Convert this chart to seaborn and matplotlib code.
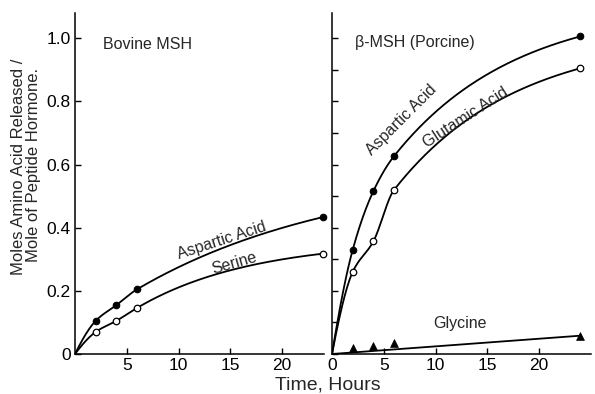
import numpy as np
import pandas as pd
import matplotlib
matplotlib.use("Agg")
import matplotlib.pyplot as plt
import seaborn as sns

# ---- data ----
hours = [2, 4, 6, 24]
bov_aspartic = [0.105, 0.155, 0.205, 0.434]
bov_serine = [0.07, 0.105, 0.146, 0.318]
por_aspartic = [0.33, 0.516, 0.627, 1.006]
por_glutamic = [0.26, 0.357, 0.52, 0.905]
por_glycine = [0.02, 0.025, 0.035, 0.058]

left_xticks = [5, 10, 15, 20]
right_xticks = [0, 5, 10, 15, 20]
yticks = [0, 0.2, 0.4, 0.6, 0.8, 1.0]
ytick_labels = ["0", "0.2", "0.4", "0.6", "0.8", "1.0"]

# curvature (style) of the hand-drawn smooth curve after the last early point
bend = {"bov_asp": 0.05, "bov_ser": 0.09, "por_asp": 0.085, "por_glu": 0.085}


def hermite(x, y, m, xs):
    x = np.asarray(x, float); y = np.asarray(y, float); m = np.asarray(m, float)
    h = np.diff(x)
    idx = np.clip(np.searchsorted(x, xs) - 1, 0, len(x) - 2)
    t = (xs - x[idx]) / h[idx]
    h00 = 2 * t**3 - 3 * t**2 + 1; h10 = t**3 - 2 * t**2 + t
    h01 = -2 * t**3 + 3 * t**2; h11 = t**3 - t**2
    return h00 * y[idx] + h10 * h[idx] * m[idx] + h01 * y[idx + 1] + h11 * h[idx] * m[idx + 1]


def curve(vals, k):
    # early part: monotone cubic through origin and the early points,
    # late part: smooth saturating approach to the last point
    x = np.array([0] + hours[:-1], float)
    y = np.array([0] + vals[:-1], float)
    x_end, y_end = hours[-1], vals[-1]
    span = x_end - x[-1]
    delta = y_end - y[-1]
    tail_slope = delta * k / (1 - np.exp(-k * span))
    h = np.diff(x); d = np.diff(y) / h
    n = len(x); m = np.zeros(n)
    for i in range(1, n - 1):
        if d[i - 1] * d[i] > 0:
            w1 = 2 * h[i] + h[i - 1]; w2 = h[i] + 2 * h[i - 1]
            m[i] = (w1 + w2) / (w1 / d[i - 1] + w2 / d[i])
    m[0] = max(((2 * h[0] + h[1]) * d[0] - h[0] * d[1]) / (h[0] + h[1]), 0)
    m[-1] = tail_slope
    xs1 = np.linspace(0, x[-1], 80)
    ys1 = hermite(x, y, m, xs1)
    xs2 = np.linspace(x[-1], x_end, 120)[1:]
    ys2 = y[-1] + delta * (1 - np.exp(-k * (xs2 - x[-1]))) / (1 - np.exp(-k * span))
    return pd.DataFrame({"t": np.r_[xs1, xs2], "v": np.r_[ys1, ys2]})


sns.set_style("ticks")
plt.rcParams["font.family"] = ["Liberation Sans", "DejaVu Sans"]

W, H = 595, 394
fig = plt.figure(figsize=(W / 100, H / 100), dpi=100)
pxh = 10.35
yb = 40 / H
hgt = 341 / H
axL = fig.add_axes([75 / W, yb, 24.1 * pxh / W, hgt])
axR = fig.add_axes([332 / W, yb, 25.0 * pxh / W, hgt])
axL.set_xlim(0, 24.1)
axR.set_xlim(0, 25.0)

lw = 1.3
ms = 22
# left panel
sns.lineplot(data=curve(bov_aspartic, bend["bov_asp"]), x="t", y="v", ax=axL,
             color="black", lw=lw, sort=False)
sns.lineplot(data=curve(bov_serine, bend["bov_ser"]), x="t", y="v", ax=axL,
             color="black", lw=lw, sort=False)
sns.scatterplot(x=hours, y=bov_aspartic, ax=axL, color="black", s=ms, marker="o",
                edgecolor="black", linewidth=0.8, zorder=5, clip_on=False)
sns.scatterplot(x=hours, y=bov_serine, ax=axL, color="white", s=ms, marker="o",
                edgecolor="black", linewidth=0.9, zorder=5, clip_on=False)
# right panel
sns.lineplot(data=curve(por_aspartic, bend["por_asp"]), x="t", y="v", ax=axR,
             color="black", lw=lw, sort=False)
sns.lineplot(data=curve(por_glutamic, bend["por_glu"]), x="t", y="v", ax=axR,
             color="black", lw=lw, sort=False)
sns.lineplot(x=[0, hours[-1]], y=[0, por_glycine[-1]], ax=axR, color="black", lw=lw)
sns.scatterplot(x=hours, y=por_aspartic, ax=axR, color="black", s=ms, marker="o",
                edgecolor="black", linewidth=0.8, zorder=5, clip_on=False)
sns.scatterplot(x=hours, y=por_glutamic, ax=axR, color="white", s=ms, marker="o",
                edgecolor="black", linewidth=0.9, zorder=5, clip_on=False)
sns.scatterplot(x=hours, y=por_glycine, ax=axR, color="black", s=32, marker="^",
                edgecolor="black", linewidth=0.5, zorder=5, clip_on=False)

for ax in (axL, axR):
    ax.set_ylim(0, 1.08)
    sns.despine(ax=ax)
    for s in ("left", "bottom"):
        ax.spines[s].set_linewidth(1.1)
        ax.spines[s].set_color("black")
    ax.tick_params(direction="in", length=4, width=1, colors="black",
                   labelsize=12.5)
    ax.tick_params(axis="x", pad=3)
    ax.set_xlabel(""); ax.set_ylabel("")

axL.set_xticks(left_xticks)
axL.set_xticklabels([str(v) for v in left_xticks])
axL.set_yticks(yticks)
axL.set_yticklabels(ytick_labels)
axL.tick_params(axis="y", pad=3)
axR.set_xticks(right_xticks)
axR.set_xticklabels([str(v) for v in right_xticks])
axR.set_yticks(np.arange(0, 1.05, 0.1))
axR.set_yticklabels([])

# annotations
axL.text(2.7, 0.981, "Bovine MSH", fontsize=11.5, ha="left", va="center")
axL.text(14.2, 0.36, "Aspartic Acid", fontsize=11.5, ha="center", va="center",
         rotation=18, rotation_mode="anchor")
axL.text(15.4, 0.288, "Serine", fontsize=11.5, ha="center", va="center",
         rotation=16, rotation_mode="anchor")
axR.text(2.2, 0.985, "β-MSH (Porcine)", fontsize=11.5, ha="left", va="center")
axR.text(6.67, 0.74, "Aspartic Acid", fontsize=11.5, ha="center", va="center",
         rotation=45, rotation_mode="anchor")
axR.text(12.95, 0.75, "Glutamic Acid", fontsize=11.5, ha="center", va="center",
         rotation=33, rotation_mode="anchor")
axR.text(12.4, 0.098, "Glycine", fontsize=11.5, ha="center", va="center")

fig.text(328 / W, 1 - 385 / H, "Time, Hours", fontsize=14, ha="center", va="center")
fig.text(19 / W, 1 - 167 / H, "Moles Amino Acid Released /", fontsize=12,
         rotation=90, ha="center", va="center")
fig.text(34 / W, 1 - 165 / H, "Mole of Peptide Hormone.", fontsize=12,
         rotation=90, ha="center", va="center")

fig.savefig("out.png", dpi=100)
